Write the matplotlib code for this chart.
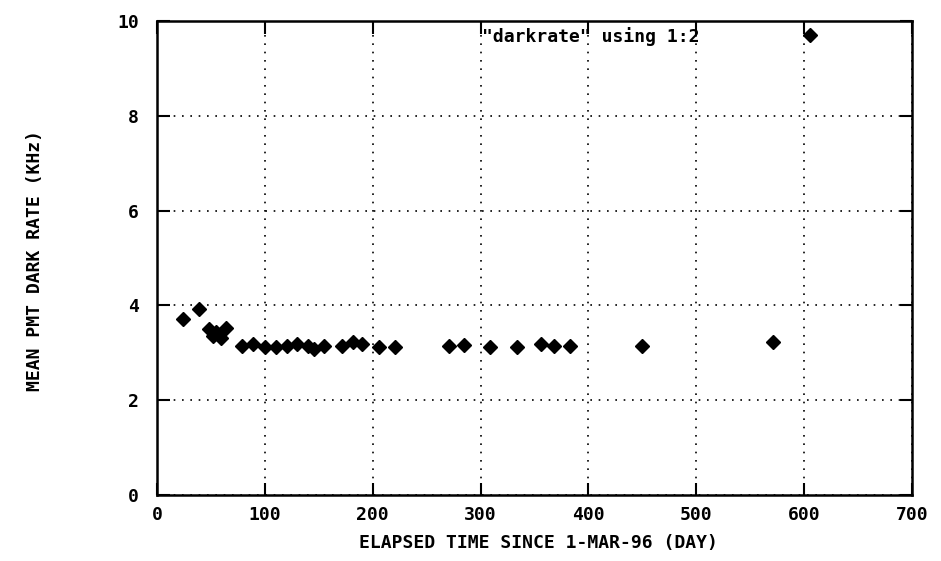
import matplotlib
matplotlib.use("Agg")
import matplotlib.pyplot as plt

# elapsed days since 1-Mar-96 and mean PMT dark rate (kHz)
days = [24, 39, 48, 52, 55, 59, 64, 79, 89, 100, 110, 121, 130, 140, 146, 155,
        172, 182, 190, 206, 221, 271, 285, 309, 334, 356, 368, 383, 450, 571]
rate = [3.72, 3.93, 3.50, 3.36, 3.43, 3.32, 3.53, 3.15, 3.19, 3.13, 3.12, 3.14,
        3.19, 3.15, 3.08, 3.15, 3.15, 3.22, 3.19, 3.12, 3.12, 3.15, 3.16, 3.12,
        3.13, 3.18, 3.14, 3.14, 3.15, 3.22]
x_ticks = [0, 100, 200, 300, 400, 500, 600, 700]
y_ticks = [0, 2, 4, 6, 8, 10]

plt.rcParams['font.family'] = ['DejaVu Sans Mono']
plt.rcParams['font.weight'] = 'bold'
plt.rcParams['axes.labelweight'] = 'bold'

fig = plt.figure(figsize=(9.41, 5.61), dpi=100)
ax = fig.add_axes([0.1668, 0.1176, 0.8023, 0.845])

ax.plot(days, rate, linestyle='none', marker='D', ms=7, color='black',
        label='"darkrate" using 1:2')

ax.set_xlim(0, 700)
ax.set_ylim(0, 10)
ax.set_xticks(x_ticks)
ax.set_yticks(y_ticks)
ax.tick_params(direction='in', length=9, width=1.5, top=True, right=True,
               labelsize=13, colors='black')
ax.tick_params(axis='x', pad=8)
ax.tick_params(axis='y', pad=13)
for s in ax.spines.values():
    s.set_linewidth(1.8)

ax.grid(True, linestyle=(0, (1, 4)), color='black', linewidth=1.2)

ax.set_xlabel('ELAPSED TIME SINCE 1-MAR-96 (DAY)', fontsize=13, va='center')
ax.xaxis.set_label_coords(0.505, -0.101)
ax.set_ylabel('MEAN PMT DARK RATE (KHz)', fontsize=13, va='center')
ax.yaxis.set_label_coords(-0.162, 0.494)

ax.legend(loc='center right', bbox_to_anchor=(0.877, 0.968), frameon=False,
          markerfirst=False, handlelength=1, handletextpad=5.6,
          borderaxespad=0, borderpad=0, fontsize=13, numpoints=1)

fig.savefig('out.png', dpi=100)
